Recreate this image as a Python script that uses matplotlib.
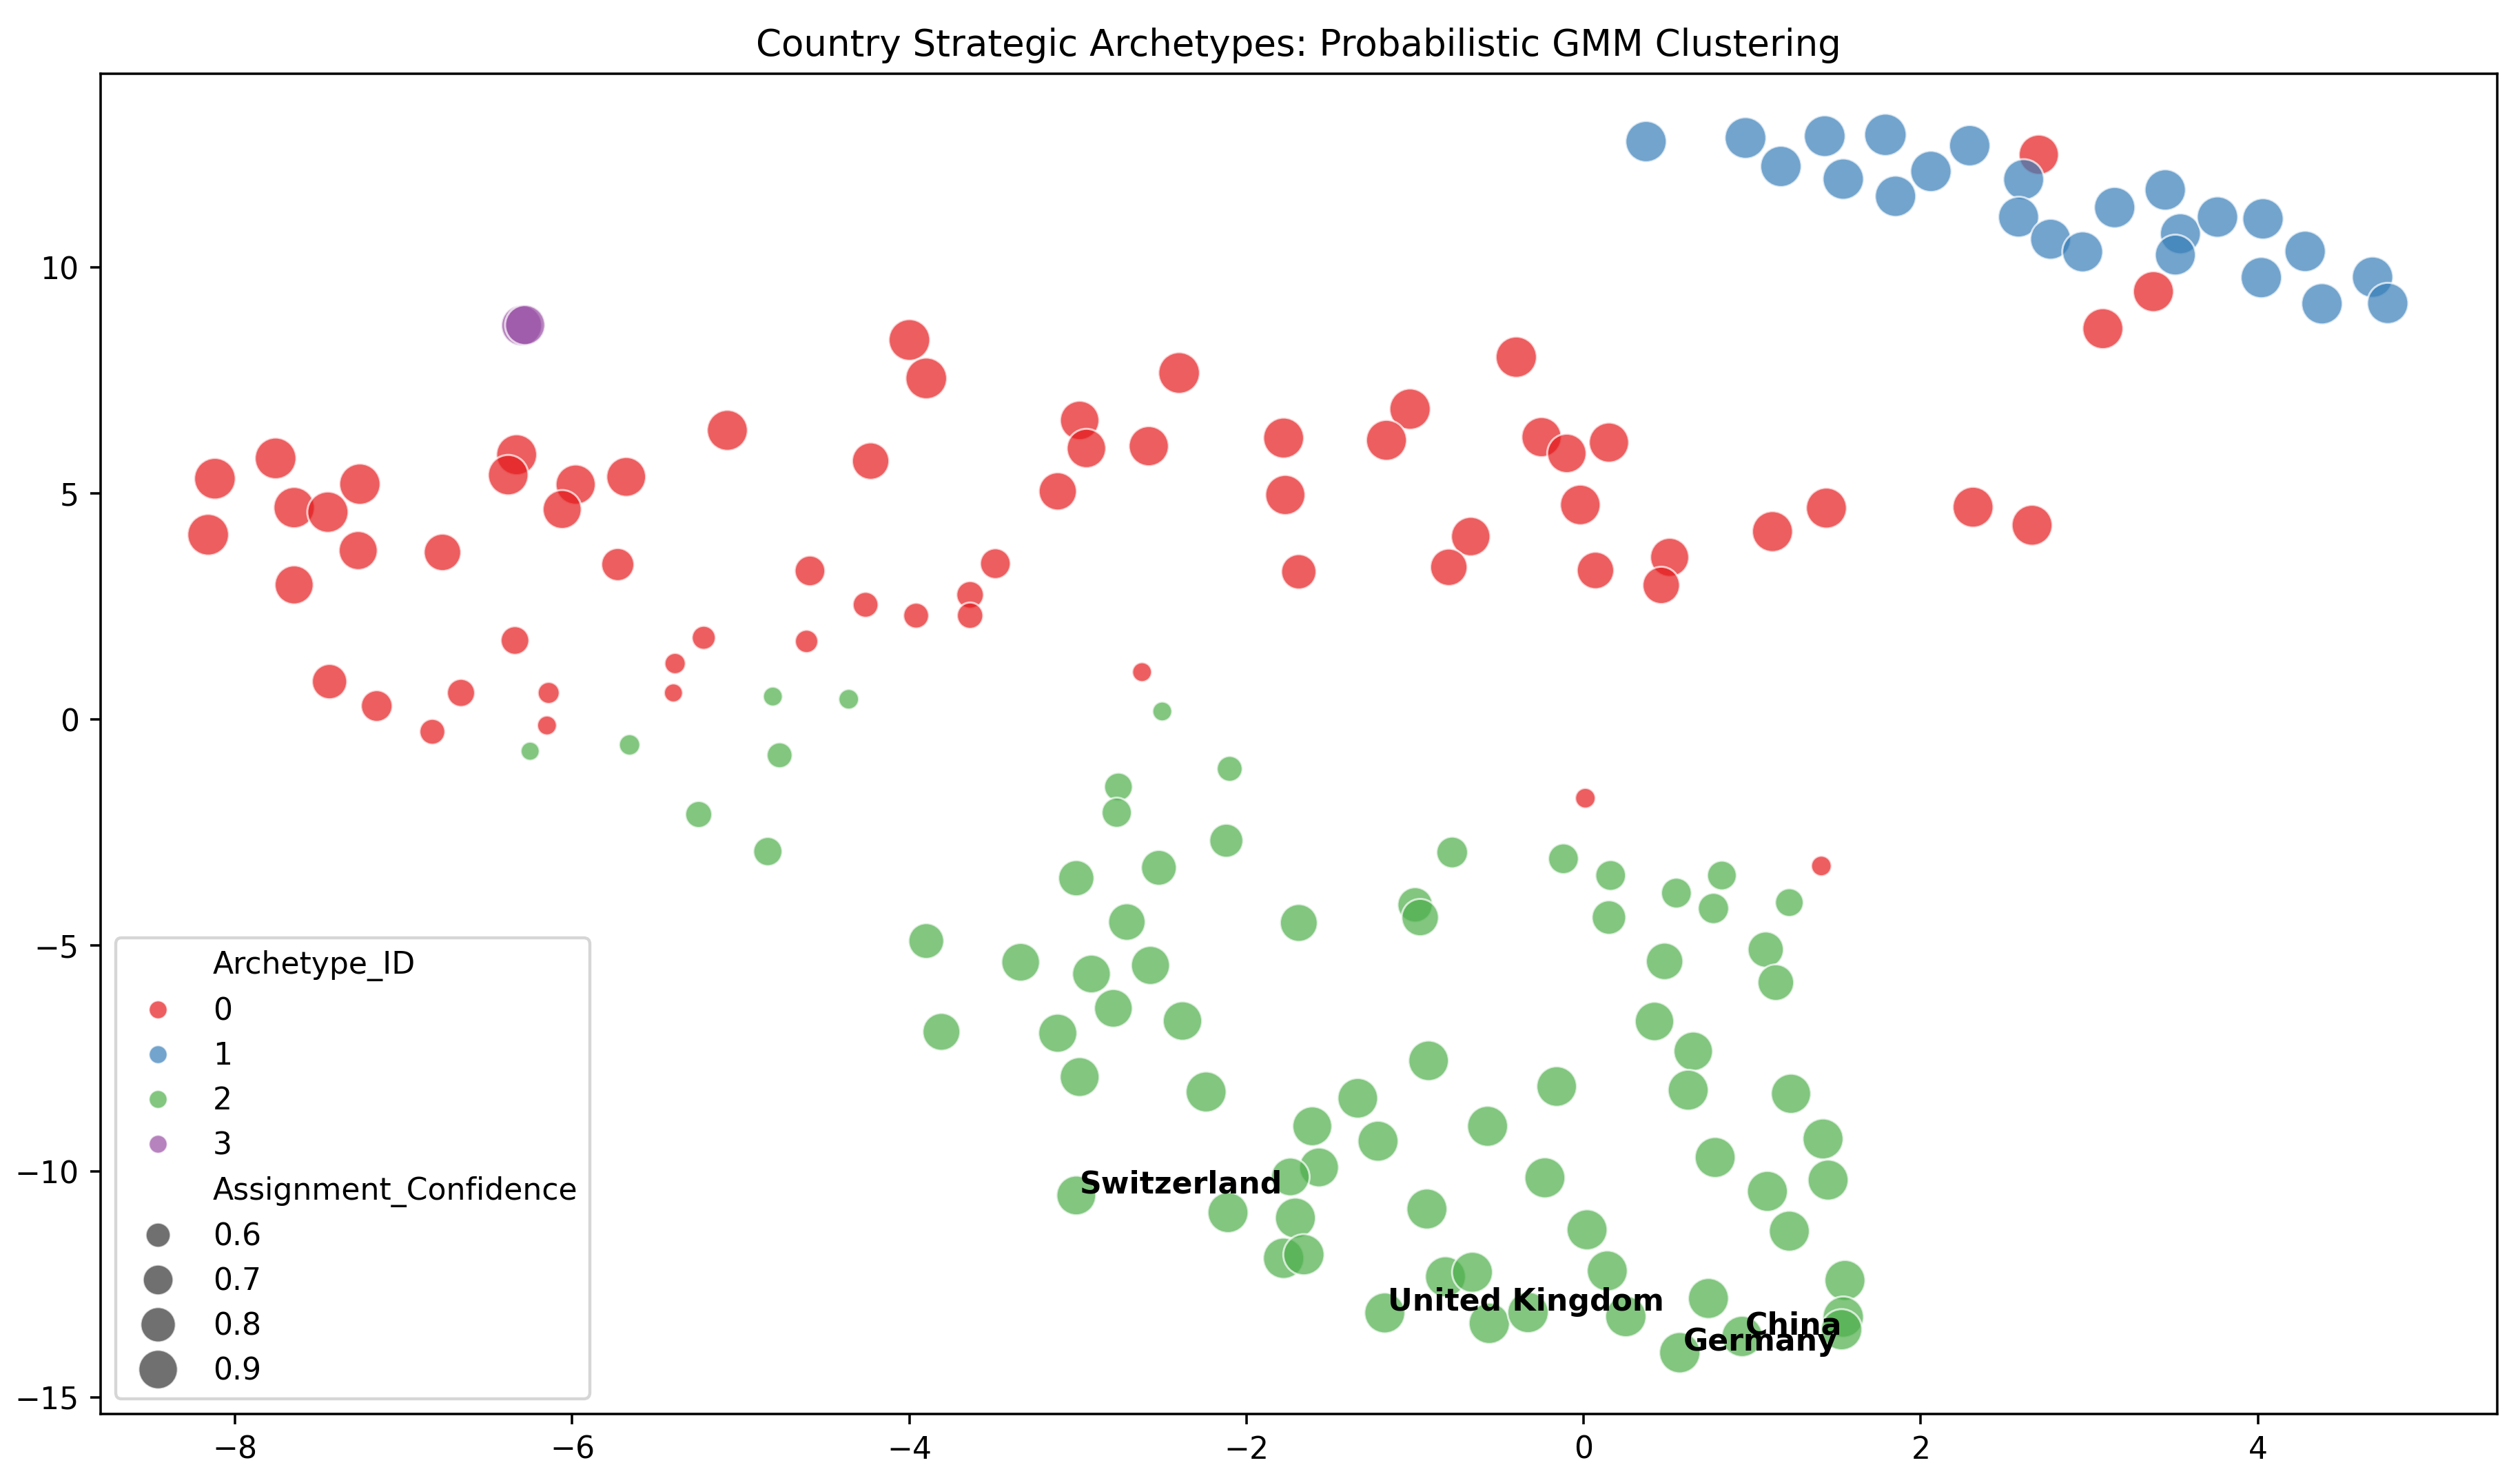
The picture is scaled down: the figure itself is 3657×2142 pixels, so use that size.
import matplotlib
matplotlib.use("Agg")
import matplotlib.pyplot as plt
from matplotlib.lines import Line2D
import seaborn as sns
import pandas as pd
import numpy as np

# ---------------- data ----------------
# Archetype 0 (red)
red_x = [-7.76, -8.12, -8.16, -7.65, -7.45, -7.26, -7.27, -7.65, -6.77, -6.33,
         -6.38, -5.98, -6.06, -5.68, -5.08, -5.73, -4.59, -6.34, -7.44, -7.16,
         -6.66, -6.83, -6.14, -6.15, -5.39, -5.40, -5.22, -4.61,
         -4.00, -3.90, -2.40, -0.40, -1.03, -1.17, -1.78, -1.77, -2.99, -2.95,
         -2.58, -3.12, -4.23, -0.25, -0.10, 0.15, -0.02, -0.67, -0.80, 0.07,
         -1.69, -3.49, -4.26, -3.96, -3.64, -3.64, -2.62, 0.01,
         2.70, 3.38, 3.08, 1.44, 1.12, 2.31, 2.66, 0.51, 0.46, 1.41]
red_y = [5.78, 5.33, 4.09, 4.69, 4.59, 5.21, 3.74, 2.98, 3.70, 5.86,
         5.41, 5.20, 4.65, 5.37, 6.40, 3.43, 3.29, 1.75, 0.84, 0.30,
         0.59, -0.27, 0.59, -0.13, 1.24, 0.59, 1.81, 1.73,
         8.40, 7.55, 7.67, 8.02, 6.87, 6.18, 6.23, 4.97, 6.62, 6.00,
         6.05, 5.05, 5.72, 6.25, 5.89, 6.13, 4.75, 4.05, 3.37, 3.30,
         3.27, 3.45, 2.54, 2.30, 2.76, 2.30, 1.05, -1.74,
         12.50, 9.47, 8.65, 4.68, 4.16, 4.70, 4.30, 3.59, 2.97, -3.24]
red_conf = [0.97, 0.97, 0.97, 0.96, 0.96, 0.96, 0.90, 0.90, 0.86, 0.95,
            0.94, 0.93, 0.90, 0.92, 0.95, 0.76, 0.71, 0.67, 0.81, 0.73,
            0.66, 0.62, 0.56, 0.53, 0.55, 0.52, 0.59, 0.58,
            0.97, 0.97, 0.97, 0.96, 0.96, 0.95, 0.95, 0.93, 0.91, 0.91,
            0.93, 0.88, 0.86, 0.93, 0.91, 0.93, 0.94, 0.91, 0.86, 0.86,
            0.81, 0.71, 0.62, 0.62, 0.65, 0.63, 0.53, 0.54,
            0.93, 0.95, 0.95, 0.95, 0.95, 0.95, 0.95, 0.90, 0.86, 0.54]

# Archetype 1 (blue)
blue_x = [0.37, 0.96, 1.17, 1.43, 1.54, 1.79, 1.85, 2.06, 2.29, 2.61, 2.58, 2.77,
          2.96, 3.15, 3.45, 3.54, 3.51, 3.76, 4.03, 4.02, 4.28, 4.38, 4.68, 4.77]
blue_y = [12.79, 12.87, 12.24, 12.91, 11.96, 12.94, 11.58, 12.13, 12.70, 11.95, 11.12, 10.63,
          10.35, 11.33, 11.72, 10.75, 10.28, 11.12, 11.08, 9.78, 10.36, 9.20, 9.79, 9.21]
blue_conf = [0.96, 0.97, 0.96, 0.97, 0.96, 0.99, 0.96, 0.96, 0.96, 0.95, 0.95, 0.95,
             0.95, 0.96, 0.96, 0.95, 0.95, 0.96, 0.96, 0.96, 0.96, 0.96, 0.96, 0.96]

# Archetype 2 (green)
green_x = [-6.25, -5.66, -4.81, -4.36, -4.77, -5.25, -4.84,
           -2.50, -2.10, -2.76, -2.77,
           -2.12, -3.01, -2.52, -2.71, -1.69, -3.90, -3.34, -2.92, -2.57, -2.79,
           -2.38, -3.81, -3.12, -2.99, -2.24, -1.61, -1.57, -1.74, -3.01, -2.11,
           -1.71, -1.78, -1.66,
           -0.78, -0.12, 0.16, 0.82, 0.55, 0.77, 1.22, -1.00, -0.97, 0.15,
           0.48, 1.08, 1.14, 0.42, 0.65, -0.92, -1.34, -0.16, 0.62, 1.23,
           -1.22, -0.57, 1.42, 0.78, 1.45, 1.09, -0.23, -0.93, 0.02, 1.22,
           -0.82, -0.66, 0.14, 1.55, 0.74, -1.18, -0.56, -0.33, 0.25, 1.54,
           1.53, 0.57, 0.94]
green_y = [-0.70, -0.56, 0.51, 0.45, -0.79, -2.10, -2.92,
           0.18, -1.09, -1.49, -2.06,
           -2.68, -3.51, -3.28, -4.48, -4.50, -4.90, -5.37, -5.63, -5.44, -6.39,
           -6.67, -6.91, -6.94, -7.91, -8.24, -9.00, -9.91, -10.12, -10.53, -10.91,
           -11.03, -11.92, -11.84,
           -2.94, -3.08, -3.45, -3.45, -3.84, -4.18, -4.05, -4.10, -4.38, -4.38,
           -5.35, -5.09, -5.82, -6.68, -7.34, -7.55, -8.38, -8.12, -8.20, -8.28,
           -9.33, -9.00, -9.28, -9.69, -10.19, -10.44, -10.14, -10.83, -11.29, -11.32,
           -12.33, -12.23, -12.20, -12.41, -12.81, -13.13, -13.36, -13.12, -13.21, -13.22,
           -13.50, -14.01, -13.65]
green_conf = [0.52, 0.55, 0.53, 0.54, 0.62, 0.64, 0.68,
              0.53, 0.62, 0.67, 0.70,
              0.78, 0.83, 0.82, 0.86, 0.87, 0.82, 0.89, 0.89, 0.90, 0.89,
              0.91, 0.87, 0.90, 0.92, 0.95, 0.92, 0.92, 0.89, 0.92, 0.95,
              0.95, 0.96, 0.96,
              0.73, 0.71, 0.71, 0.69, 0.71, 0.72, 0.67, 0.81, 0.86, 0.79,
              0.86, 0.83, 0.84, 0.91, 0.91, 0.94, 0.94, 0.94, 0.95, 0.93,
              0.95, 0.95, 0.95, 0.95, 0.95, 0.95, 0.95, 0.95, 0.95, 0.95,
              0.95, 0.95, 0.95, 0.95, 0.95, 0.95, 0.96, 0.96, 0.96, 0.96,
              0.96, 0.96, 0.96]

# Archetype 3 (purple)
purple_x = [-6.30, -6.28]
purple_y = [8.72, 8.73]
purple_conf = [0.95, 0.93]

archetype_ids = [0, 1, 2, 3]
legend_conf_levels = [0.6, 0.7, 0.8, 0.9]

# annotated countries (index into the green arrays)
label_names = ["Switzerland", "United Kingdom", "Germany", "China"]
label_index = [29, 69, 75, 76]

# ---------------- frame ----------------
frames = []
for cid, (xs, ys, cs) in zip(archetype_ids,
                             [(red_x, red_y, red_conf),
                              (blue_x, blue_y, blue_conf),
                              (green_x, green_y, green_conf),
                              (purple_x, purple_y, purple_conf)]):
    frames.append(pd.DataFrame({"x": xs, "y": ys, "Assignment_Confidence": cs,
                                "Archetype_ID": cid}))
df = pd.concat(frames, ignore_index=True)

# ---------------- plot ----------------
DPI = 318
SIZES = (38.5, 192.5)
fig = plt.figure(figsize=(3657 / DPI, 2142 / DPI), dpi=DPI)
ax = fig.add_axes([0.0398, 0.0422, 0.9512, 0.9078])

palette = sns.color_palette("Set1", len(archetype_ids))
sns.scatterplot(data=df, x="x", y="y", hue="Archetype_ID", size="Assignment_Confidence",
                sizes=SIZES, palette=palette, alpha=0.7, edgecolor="w", ax=ax,
                legend=False)

for name, idx in zip(label_names, label_index):
    ax.text(green_x[idx] + 0.02, green_y[idx] + 0.05, name,
            fontsize=10, fontweight="bold", color="black")

ax.set_xlim(-8.80, 5.42)
ax.set_ylim(-15.36, 14.29)
ax.set_xlabel("")
ax.set_ylabel("")
ax.set_title("Country Strategic Archetypes: Probabilistic GMM Clustering", fontsize=12)

# legend in seaborn style
cmin = df["Assignment_Confidence"].min()
cmax = df["Assignment_Confidence"].max()
def size_of(v):
    return SIZES[0] + (v - cmin) / (cmax - cmin) * (SIZES[1] - SIZES[0])

blank = Line2D([], [], linestyle="", marker="")
handles, labels = [blank], ["Archetype_ID"]
for cid in archetype_ids:
    handles.append(Line2D([], [], linestyle="", marker="o", markersize=6,
                          color=palette[cid], alpha=0.7, markeredgecolor="w",
                          markeredgewidth=0.5))
    labels.append(str(cid))
handles.append(Line2D([], [], linestyle="", marker="")); labels.append("Assignment_Confidence")
for v in legend_conf_levels:
    handles.append(Line2D([], [], linestyle="", marker="o", markersize=np.sqrt(size_of(v)),
                          color=".2", alpha=0.7, markeredgecolor="w", markeredgewidth=0.5))
    labels.append(f"{v:.1f}")
ax.legend(handles, labels, loc="lower left")

fig.savefig("out.png", dpi=DPI)
